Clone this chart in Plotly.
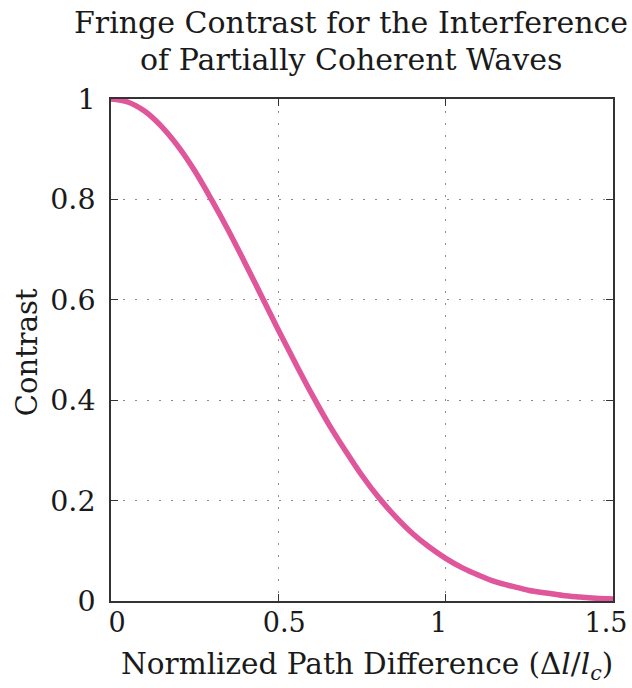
import plotly.graph_objects as go

# Data
path_diff = [0.0, 0.05, 0.1, 0.15, 0.2, 0.25, 0.3, 0.35, 0.4, 0.45, 0.5, 0.55, 0.6, 0.65,
             0.7, 0.75, 0.8, 0.85, 0.9, 0.95, 1.0, 1.05, 1.1, 1.15, 1.2, 1.25, 1.3, 1.35,
             1.4, 1.45, 1.5]
contrast = [1.0, 0.994, 0.976, 0.946, 0.906, 0.857, 0.80, 0.739, 0.674, 0.607, 0.54, 0.475,
            0.412, 0.353, 0.30, 0.25, 0.206, 0.168, 0.135, 0.108, 0.085, 0.066, 0.051,
            0.038, 0.029, 0.021, 0.016, 0.011, 0.008, 0.0056, 0.004]

x_ticks = [0, 0.5, 1, 1.5]
x_tick_labels_left = ["0", "0.5", "", ""]
x_ticks_right = [1, 1.5]
x_tick_labels_right = ["1", "1.5"]
y_ticks = [0, 0.2, 0.4, 0.6, 0.8, 1]
y_tick_labels = ["0", "0.2", "0.4", "0.6", "0.8", "1"]

title_lines = ["Fringe Contrast for the Interference", "of Partially Coherent Waves"]
x_title = "Normlized Path Difference (Δ<i>l</i>/<i>l<sub>c</sub></i>)"
y_title = "Contrast"

FONT = "DejaVu Serif"
TXT = "#1a1a1a"

fig = go.Figure()
fig.add_trace(go.Scatter(
    x=path_diff, y=contrast, mode="lines",
    line=dict(color="#E0569B", width=5.5, shape="spline"),
    showlegend=False, hoverinfo="skip",
))
# invisible helper trace so the secondary x axis (right-hand tick labels) is drawn
fig.add_trace(go.Scatter(
    x=x_ticks_right, y=[0, 0], xaxis="x2", mode="markers",
    marker=dict(opacity=0), showlegend=False, hoverinfo="skip",
))

axis_common = dict(
    showline=True, linecolor="#333", linewidth=1.5, mirror="ticks",
    ticks="inside", ticklen=7, tickcolor="#333", tickwidth=1.2,
    showgrid=True, gridcolor="#8a8a8a", griddash="2px,10px", gridwidth=1.2,
    zeroline=False, automargin=False,
)

fig.update_layout(
    width=632, height=688,
    margin=dict(l=111, r=19, t=99, b=87, autoexpand=False),
    paper_bgcolor="white", plot_bgcolor="white",
    xaxis=dict(range=[0, 1.5], tickvals=x_ticks, ticktext=x_tick_labels_left,
               ticklabelstandoff=-3, ticklabelshift=6,
               tickfont=dict(family=FONT, size=27, color=TXT), **axis_common),
    xaxis2=dict(range=[0, 1.5], overlaying="x", anchor="y", side="bottom",
                tickvals=x_ticks_right, ticktext=x_tick_labels_right,
                showgrid=False, showline=False, ticks="", zeroline=False,
                automargin=False, ticklabelstandoff=3, ticklabelshift=-7,
                tickfont=dict(family=FONT, size=27, color=TXT)),
    yaxis=dict(range=[0, 1], tickvals=y_ticks, ticktext=y_tick_labels,
               ticklabelstandoff=8,
               tickfont=dict(family=FONT, size=28.5, color=TXT), **axis_common),
    annotations=[
        dict(text=title_lines[0], x=0.478, y=1.153, xref="paper", yref="paper",
             xanchor="center", yanchor="middle", showarrow=False,
             font=dict(family=FONT, size=30, color=TXT)),
        dict(text=title_lines[1], x=0.478, y=1.078, xref="paper", yref="paper",
             xanchor="center", yanchor="middle", showarrow=False,
             font=dict(family=FONT, size=30, color=TXT)),
        dict(text=x_title, x=0.51, y=-0.13, xref="paper", yref="paper",
             xanchor="center", yanchor="middle", showarrow=False,
             font=dict(family=FONT, size=29.5, color=TXT)),
        dict(text=y_title, x=-0.167, y=0.496, xref="paper", yref="paper",
             xanchor="center", yanchor="middle", showarrow=False, textangle=-90,
             font=dict(family=FONT, size=29, color=TXT)),
    ],
)

# Remove the default 8px page margin so the figure fills the window exactly.
fig.write_html("out.html", config={"displayModeBar": False},
               post_script="document.body.style.margin='0px';")
